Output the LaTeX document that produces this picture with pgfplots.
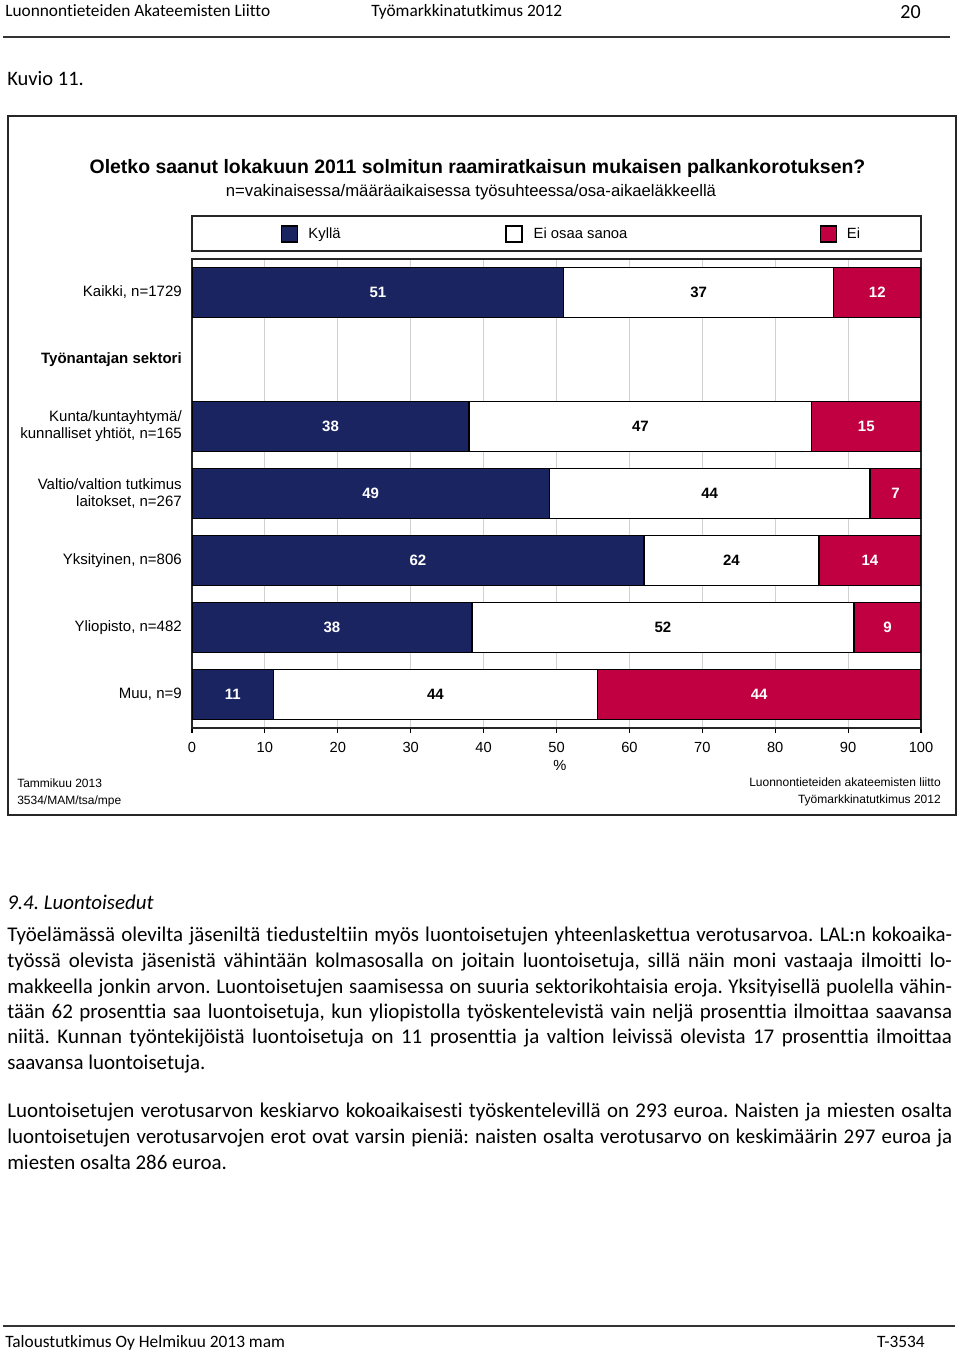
\documentclass[border=0pt]{standalone}
\usepackage{pgfplots}
\pgfplotsset{compat=1.18}
\usepackage{pgfplotstable}
\usepackage{fontspec}
\setmainfont{Liberation Sans}
\newfontfamily\calfont[Ligatures={NoCommon}]{Carlito}
\definecolor{navy}{RGB}{26,36,97}
\definecolor{crim}{RGB}{193,0,66}
\newcommand{\fs}[1]{\fontsize{#1}{#1}\selectfont}
\pgfplotsset{sqlegend/.style={legend image code/.code={\draw[##1,line width=0.9pt] (0pt,-6pt) rectangle (12pt,6pt);}}}
\frenchspacing

\pgfplotstableread{
row a b c la lb lc
0 51 37 12 51 37 12
2 38 47 15 38 47 15
3 49 44 7 49 44 7
4 62 24 14 62 24 14
5 38.4 52.4 9.2 38 52 9
6 11.2 44.4 44.4 11 44 44
}\data

\begin{document}
\begin{tikzpicture}
\useasboundingbox (0pt,0pt) rectangle (720pt,-1014pt);
\begin{axis}[
  at={(144pt,-194.25pt)}, anchor=north west,
  scale only axis, width=546.75pt, height=351.75pt,
  xmin=0, xmax=100, ymin=-0.5, ymax=6.5, y dir=reverse,
  xbar stacked, bar width=0.746,
  xtick={0,10,...,100}, xtick pos=left,
  ytick={0,1,2,3,4,5,6},
  yticklabels={{Kaikki, n=1729},{\textbf{Työnantajan sektori}},{Kunta/kuntayhtymä/\\kunnalliset yhtiöt, n=165},{Valtio/valtion tutkimus\\laitokset, n=267},{Yksityinen, n=806},{Yliopisto, n=482},{Muu, n=9}},
  yticklabel style={align=right, inner sep=0pt, xshift=-3.75pt, font=\fontsize{11.25pt}{12.75pt}\selectfont},
  ytick style={draw=none},
  xtick style={black, line width=0.8pt},
  tick align=outside, major tick length=3.75pt,
  /pgf/number format/assume math mode=true,
  xticklabel style={font=\fs{11pt}, yshift=-3.75pt},
  xmajorgrids, grid style={black!18, line width=0.8pt},
  axis line style={black!85, line width=1.1pt},
  xlabel={\%},
  every axis x label/.style={at={(axis description cs:0.5048,0)}, anchor=center, yshift=-27.75pt, font=\fs{11pt}},
  legend columns=3,
  legend style={at={(axis description cs:0.1221,1.0533)}, anchor=west, draw=none, fill=none, inner sep=0pt, nodes={inner sep=0pt, anchor=west}, column sep=0pt, font=\fs{11.1pt}},
  every node near coord/.append style={anchor=center, font=\bfseries\fs{11.25pt}},
  point meta=explicit,
]
\addplot[forget plot, fill=navy, draw=black, line width=1pt,
  nodes near coords,
  every node near coord/.append style={text=white}]
  table[x=a, y=row, meta=la] {\data};
\addplot[forget plot, fill=white, draw=black, line width=1pt,
  nodes near coords,
  every node near coord/.append style={text=black}]
  table[x=b, y=row, meta=lb] {\data};
\addplot[forget plot, fill=crim, draw=black, line width=1pt,
  nodes near coords,
  every node near coord/.append style={text=white}]
  table[x=c, y=row, meta=lc] {\data};
\addlegendimage{fill=navy, draw=black, sqlegend}
\addlegendentry{\makebox[155.25pt][l]{\hspace{7.5pt}Kyllä}}
\addlegendimage{fill=white, draw=black, sqlegend}
\addlegendentry{\makebox[222.75pt][l]{\hspace{8.25pt}Ei osaa sanoa}}
\addlegendimage{fill=crim, draw=black, sqlegend}
\addlegendentry{\hspace{7.5pt}Ei}
\end{axis}
\begin{scope}[x=0.75pt,y=-0.75pt]
% header
\node[anchor=west, inner sep=0pt] at (5,12) {\calfont\fs{13pt}\vphantom{Ly}Luonnontieteiden Akateemisten Liitto};
\node[anchor=west, inner sep=0pt] at (371,12) {\calfont\fs{13pt}\vphantom{Ly}Työmarkkinatutkimus 2012};
\node[anchor=east, inner sep=0pt] at (921,14) {\calfont\fs{15pt}\vphantom{Ly}20};
\draw[black!80, line width=1pt] (3,37) -- (950,37);
\node[anchor=west, inner sep=0pt] at (7,80) {\calfont\fs{15.4pt}\vphantom{Ly}Kuvio 11.};
% chart frame
\draw[black!85, line width=1.5pt] (8,116) rectangle (956,815);
\node[inner sep=0pt] at (477.5,168) {\bfseries\fs{14.58pt}\vphantom{Ly}Oletko saanut lokakuun 2011 solmitun raamiratkaisun mukaisen palkankorotuksen?};
\node[inner sep=0pt] at (471,192) {\fs{12.54pt}\vphantom{Ly}n=vakinaisessa/määräaikaisessa työsuhteessa/osa-aikaeläkkeellä};
\draw[black!85, line width=1.1pt] (192,216) rectangle (921,251);
\node[anchor=west, inner sep=0pt] at (17,784) {\fs{9pt}\vphantom{Ly}Tammikuu 2013};
\node[anchor=west, inner sep=0pt] at (17,801) {\fs{9pt}\vphantom{Ly}3534/MAM/tsa/mpe};
\node[anchor=east, inner sep=0pt] at (941,783) {\fs{9pt}\vphantom{Ly}Luonnontieteiden akateemisten liitto};
\node[anchor=east, inner sep=0pt] at (941,800) {\fs{9pt}\vphantom{Ly}Työmarkkinatutkimus 2012};
% body text
\node[anchor=west, inner sep=0pt] at (7,904) {\calfont\itshape\fs{15.7pt}\vphantom{Ly}9.4. Luontoisedut};
\node[anchor=west, inner sep=0pt] at (7,936) {\calfont\fs{15.7pt}\vphantom{Ly}\makebox[708.75pt][s]{Työelämässä olevilta jäseniltä tiedusteltiin myös luontoisetujen yhteenlaskettua verotusarvoa. LAL:n kokoaika-}};
\node[anchor=west, inner sep=0pt] at (7,962) {\calfont\fs{15.7pt}\vphantom{Ly}\makebox[708.75pt][s]{työssä olevista jäsenistä vähintään kolmasosalla on joitain luontoisetuja, sillä näin moni vastaaja ilmoitti lo-}};
\node[anchor=west, inner sep=0pt] at (7,988) {\calfont\fs{15.7pt}\vphantom{Ly}\makebox[708.75pt][s]{makkeella jonkin arvon. Luontoisetujen saamisessa on suuria sektorikohtaisia eroja. Yksityisellä puolella vähin-}};
\node[anchor=west, inner sep=0pt] at (7,1013) {\calfont\fs{15.7pt}\vphantom{Ly}\makebox[708.75pt][s]{tään 62 prosenttia saa luontoisetuja, kun yliopistolla työskentelevistä vain neljä prosenttia ilmoittaa saavansa}};
\node[anchor=west, inner sep=0pt] at (7,1038) {\calfont\fs{15.7pt}\vphantom{Ly}\makebox[708.75pt][s]{niitä. Kunnan työntekijöistä luontoisetuja on 11 prosenttia ja valtion leivissä olevista 17 prosenttia ilmoittaa}};
\node[anchor=west, inner sep=0pt] at (7,1064) {\calfont\fs{15.7pt}\vphantom{Ly}saavansa luontoisetuja.};
\node[anchor=west, inner sep=0pt] at (7,1112) {\calfont\fs{15.7pt}\vphantom{Ly}\makebox[708.75pt][s]{Luontoisetujen verotusarvon keskiarvo kokoaikaisesti työskentelevillä on 293 euroa. Naisten ja miesten osalta}};
\node[anchor=west, inner sep=0pt] at (7,1138) {\calfont\fs{15.7pt}\vphantom{Ly}\makebox[708.75pt][s]{luontoisetujen verotusarvojen erot ovat varsin pieniä: naisten osalta verotusarvo on keskimäärin 297 euroa ja}};
\node[anchor=west, inner sep=0pt] at (7,1164) {\calfont\fs{15.7pt}\vphantom{Ly}miesten osalta 286 euroa.};
% footer
\draw[black!80, line width=1pt] (3,1326) -- (955,1326);
\node[anchor=west, inner sep=0pt] at (5,1343) {\calfont\fs{13pt}\vphantom{Ly}Taloustutkimus Oy Helmikuu 2013 mam};
\node[anchor=east, inner sep=0pt] at (925,1343) {\calfont\fs{13pt}\vphantom{Ly}T-3534};
\end{scope}
\end{tikzpicture}
\end{document}
